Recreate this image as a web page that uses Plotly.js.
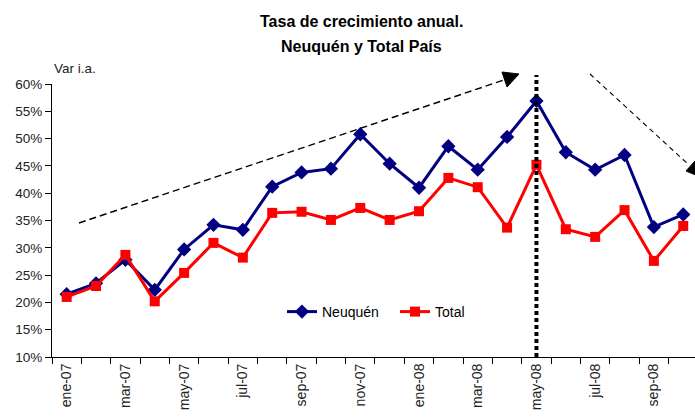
<!DOCTYPE html>
<html>
<head>
<meta charset="utf-8">
<script src="https://cdn.plot.ly/plotly-3.0.1.min.js"></script>
<style>html,body{margin:0;padding:0;background:#fff;}#chart{width:695px;height:419px;}</style>
</head>
<body>
<div id="chart"></div>
<script>
// Data (annual growth, %)
const months = ['ene-07','feb-07','mar-07','abr-07','may-07','jun-07','jul-07','ago-07','sep-07','oct-07','nov-07','dic-07',
                'ene-08','feb-08','mar-08','abr-08','may-08','jun-08','jul-08','ago-08','sep-08','oct-08'];
const neuquen = [21.5, 23.5, 27.8, 22.3, 29.7, 34.2, 33.3, 41.2, 43.8, 44.5, 50.8, 45.4,
                 41.0, 48.6, 44.3, 50.3, 56.9, 47.5, 44.3, 47.0, 33.8, 36.1];
const total   = [21.0, 23.0, 28.7, 20.2, 25.4, 30.9, 28.2, 36.4, 36.6, 35.1, 37.3, 35.1,
                 36.7, 42.8, 41.1, 33.7, 45.2, 33.4, 32.0, 36.9, 27.6, 34.0];
const tickLabels = months.map((m, i) => (i % 2 === 0 ? m : ''));
const yTicks = [10, 15, 20, 25, 30, 35, 40, 45, 50, 55, 60];
const yTickLabels = yTicks.map(v => v + '%');
const titleLines = ['Tasa de crecimiento anual.', 'Neuquén y Total País'];
const peakMonth = 'may-08';

const font = '"Liberation Sans", Arial, sans-serif';

const traces = [
  {x: months, y: neuquen, name: 'Neuquén', type: 'scatter', mode: 'lines+markers',
   line: {color: '#000080', width: 3}, marker: {symbol: 'diamond', size: 11, color: '#000080'}},
  {x: months, y: total, name: 'Total', type: 'scatter', mode: 'lines+markers',
   line: {color: '#FF0000', width: 3}, marker: {symbol: 'square', size: 10, color: '#FF0000'}}
];

// helpers for decoration placement in pixel-like paper coords
const L = 52, W = 643, B = 357, H = 273;
const px = v => (v - L) / W;
const py = v => (B - v) / H;
const pathOf = pts => 'M ' + pts.map(p => px(p[0]) + ',' + py(p[1])).join(' L ') + ' Z';

const layout = {
  width: 695, height: 419,
  margin: {l: L, r: 0, t: 84, b: 62},
  paper_bgcolor: '#fff', plot_bgcolor: '#fff',
  font: {family: font, size: 13, color: '#000'},
  showlegend: true,
  legend: {orientation: 'h', x: px(282), xanchor: 'left', y: py(312), yanchor: 'middle',
           entrywidth: 68, entrywidthmode: 'pixels',
           font: {family: font, size: 14, color: '#000'}, bgcolor: 'rgba(0,0,0,0)'},
  xaxis: {type: 'category', range: [-0.5, 21.4], tickvals: months, ticktext: tickLabels,
          tickson: 'boundaries', ticks: 'outside', ticklen: 6, tickcolor: '#000', tickwidth: 1,
          tickangle: -90, showgrid: false, zeroline: false, showline: true, linecolor: '#000', linewidth: 1,
          tickfont: {family: font, size: 14, color: '#222'}, fixedrange: true},
  yaxis: {range: [10, 60], tickmode: 'array', tickvals: yTicks, ticktext: yTickLabels, ticks: 'outside', ticklen: 6,
          tickcolor: '#000', showgrid: false, zeroline: false, showline: true, linecolor: '#000', linewidth: 1,
          tickfont: {family: font, size: 13.5, color: '#222'}, fixedrange: true},
  annotations: [
    {text: '<b>' + titleLines[0] + '</b>', xref: 'paper', yref: 'paper', x: px(361), y: py(22),
     xanchor: 'center', yanchor: 'middle', showarrow: false, font: {family: font, size: 16, color: '#000'}},
    {text: '<b>' + titleLines[1] + '</b>', xref: 'paper', yref: 'paper', x: px(361), y: py(46),
     xanchor: 'center', yanchor: 'middle', showarrow: false, font: {family: font, size: 16, color: '#000'}},
    {text: 'Var i.a.', xref: 'paper', yref: 'paper', x: px(52), y: py(68), xanchor: 'left', yanchor: 'middle',
     showarrow: false, font: {family: font, size: 13.5, color: '#222'}}
  ],
  shapes: [
    {type: 'line', xref: 'x', yref: 'paper', x0: months.indexOf(peakMonth), x1: months.indexOf(peakMonth),
     y0: 0, y1: py(75), line: {color: '#000', width: 4, dash: '4px,3px'}},
    {type: 'line', xref: 'paper', yref: 'paper', x0: px(79), y0: py(223), x1: px(504), y1: py(80),
     line: {color: '#000', width: 1.4, dash: '7px,4px'}},
    {type: 'path', xref: 'paper', yref: 'paper', path: pathOf([[519, 74], [502, 72], [507, 87]]),
     fillcolor: '#000', line: {color: '#000', width: 1}},
    {type: 'line', xref: 'paper', yref: 'paper', x0: px(590), y0: py(74), x1: px(689), y1: py(165),
     line: {color: '#000', width: 1.1, dash: '5px,4px'}},
    {type: 'path', xref: 'paper', yref: 'paper', path: pathOf([[686, 171], [695, 161], [703, 178]]),
     fillcolor: '#000', line: {color: '#000', width: 1}}
  ]
};

Plotly.newPlot('chart', traces, layout, {displayModeBar: false, staticPlot: true});
</script>
</body>
</html>
